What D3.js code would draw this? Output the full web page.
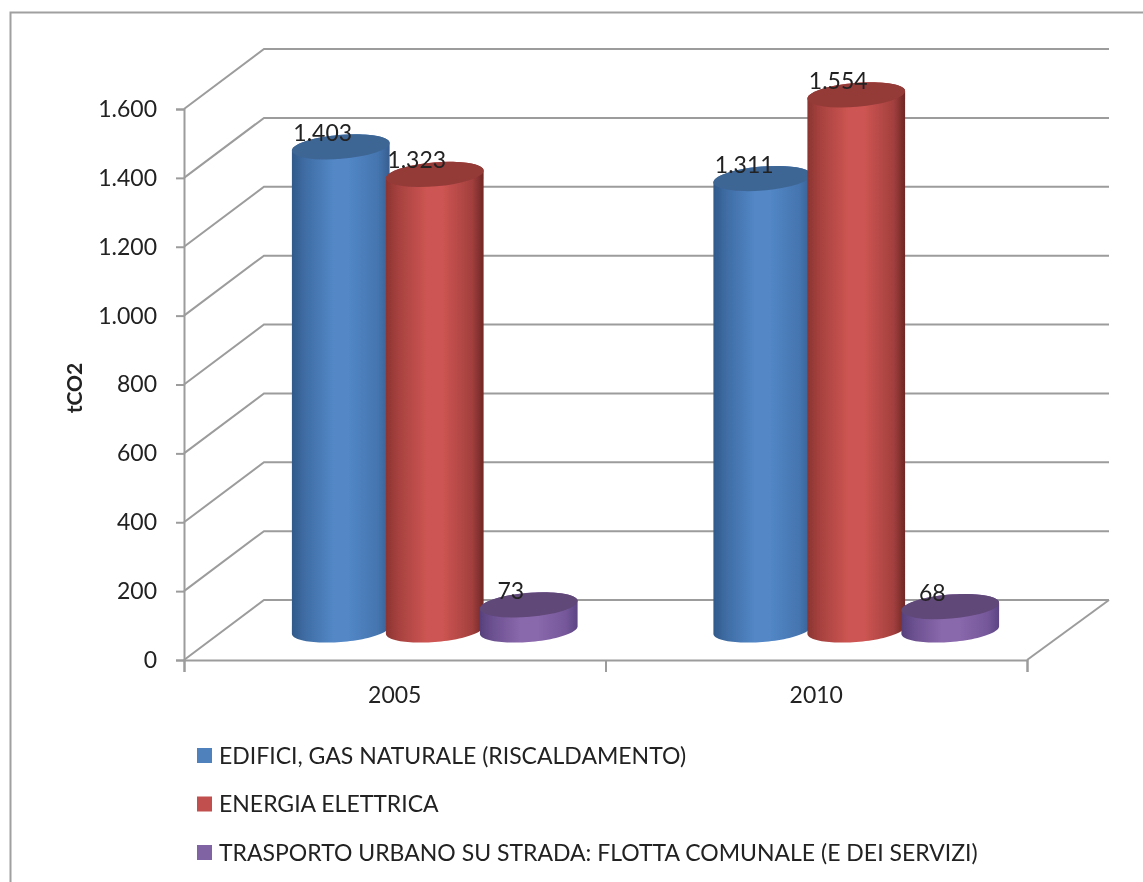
<!DOCTYPE html>
<html>
<head>
<meta charset="utf-8">
<script src="https://cdnjs.cloudflare.com/ajax/libs/d3/7.8.5/d3.min.js"></script>
<style>
  html, body { margin: 0; padding: 0; background: #fff; }
  svg { display: block; }
  text { font-family: Lato, "Open Sans", sans-serif; fill: #222; }
</style>
</head>
<body>
<svg id="chart" width="1143" height="882"></svg>
<script>
const years = ['2005', '2010'];
const seriesNames = [
  'EDIFICI, GAS NATURALE (RISCALDAMENTO)',
  'ENERGIA ELETTRICA',
  'TRASPORTO URBANO SU STRADA: FLOTTA COMUNALE (E DEI SERVIZI)'
];
const gasValues = [1403, 1311];
const elecValues = [1323, 1554];
const transportValues = [73, 68];
const yTicks = [0, 200, 400, 600, 800, 1000, 1200, 1400, 1600];

const seriesValues = [gasValues, elecValues, transportValues];
// edge, middle, far edge, top cap, legend swatch
const seriesColors = [
  ['#30598a', '#5287c6', '#365f92', '#3e6695', '#4f81bd'],
  ['#8b3431', '#cd5552', '#6f2725', '#943b39', '#c0504d'],
  ['#56407c', '#8a68ac', '#5c4484', '#604878', '#8064a2']
];

const DEPTH_X = 80;
const DEPTH_Y = -60;
const CYL_RX = 49;
const CYL_RY = 12;
const CYL_TILT = -4.7 * Math.PI / 180;

const svg = d3.select('#chart');
const y = d3.scaleLinear().domain([0, 1600]).range([660, 109]);
const x = d3.scaleBand().domain(years).range([184, 1027]);
const xEdges = d3.scaleLinear().domain([0, 2]).range([184, 1027]);
const seriesOffset = d3.scalePoint().domain(d3.range(3)).range([-94, 94]);
const number = d3.formatLocale({decimal: ',', thousands: '.', grouping: [3], currency: ['', '']}).format(',d');

// the reference is a slightly soft bitmap
const defs = svg.append('defs');
defs.append('filter').attr('id', 'soft')
  .append('feGaussianBlur').attr('stdDeviation', 0.45);

const root = svg.append('g').attr('filter', 'url(#soft)');

root.append('rect').attr('width', 1143).attr('height', 882).attr('fill', '#fff');

// outer frame, runs off the page on the right and at the bottom
root.append('path')
  .attr('d', 'M1143,12.5H10.5V882')
  .attr('fill', 'none')
  .attr('stroke', '#a0a0a0')
  .attr('stroke-width', 2);

const gridColor = '#9c9c9c';

// back wall lines and the side going back from the axis
root.append('g').selectAll('path')
  .data(yTicks)
  .join('path')
  .attr('d', d => `M184,${y(d)}l${DEPTH_X},${DEPTH_Y}H${1027 + DEPTH_X + 2}`)
  .attr('fill', 'none')
  .attr('stroke', gridColor)
  .attr('stroke-width', 2);

// right floor edge
root.append('line')
  .attr('x1', 1027).attr('y1', y(0))
  .attr('x2', 1027 + DEPTH_X + 2).attr('y2', y(0) + DEPTH_Y)
  .attr('stroke', gridColor)
  .attr('stroke-width', 2);

const yAxis = root.append('g')
  .attr('transform', 'translate(184,0)')
  .call(d3.axisLeft(y).tickValues(yTicks).tickFormat(number).tickSize(8).tickPadding(19));
yAxis.selectAll('line, path').attr('stroke', gridColor).attr('stroke-width', 2);
yAxis.selectAll('text').attr('font-size', 23).style('font-family', 'Lato').attr('fill', '#222');

const xTickAxis = root.append('g')
  .attr('transform', `translate(0,${y(0)})`)
  .call(d3.axisBottom(xEdges).tickValues([0, 1, 2]).tickFormat('').tickSize(12));
xTickAxis.selectAll('line, path').attr('stroke', gridColor).attr('stroke-width', 2);

const xLabels = root.append('g')
  .attr('transform', `translate(0,${y(0)})`)
  .call(d3.axisBottom(x).tickSize(0).tickPadding(27));
xLabels.select('.domain').remove();
xLabels.selectAll('text').attr('font-size', 23).style('font-family', 'Lato').attr('fill', '#222');

root.append('text')
  .attr('transform', 'translate(82,388) rotate(-90)')
  .attr('text-anchor', 'middle')
  .attr('font-size', 21)
  .attr('font-weight', 700)
  .text('tCO2');

// side shading of each cylinder: quick falloff near the edges, flat highlight
seriesColors.forEach((c, i) => {
  const left = d3.interpolateRgb(c[0], c[1]);
  const right = d3.interpolateRgb(c[2], c[1]);
  const grad = defs.append('linearGradient').attr('id', 'side' + i);
  [[0, c[0]], [0.12, left(0.4)], [0.42, c[1]], [0.58, c[1]], [0.88, right(0.55)], [1, c[2]]]
    .forEach(s => grad.append('stop').attr('offset', s[0]).attr('stop-color', s[1]));
});

function ellipsePoint(cx, cy, t) {
  return [
    cx + CYL_RX * Math.cos(t) * Math.cos(CYL_TILT) - CYL_RY * Math.sin(t) * Math.sin(CYL_TILT),
    cy + CYL_RX * Math.cos(t) * Math.sin(CYL_TILT) + CYL_RY * Math.sin(t) * Math.cos(CYL_TILT)
  ];
}

const line = d3.line();
// angle where the tilted ellipse reaches its right-most x
const tangent = Math.atan(-(CYL_RY / CYL_RX) * Math.tan(CYL_TILT));

function sidePath(cx, top, base) {
  const lower = d3.range(0, 49).map(k => ellipsePoint(cx, base, tangent + Math.PI * k / 48));
  const upper = d3.range(0, 49).map(k => ellipsePoint(cx, top, tangent + Math.PI + Math.PI * k / 48));
  return line(lower.concat(upper)) + 'Z';
}

const marks = [];
const labels = [];
years.forEach((year, g) => {
  seriesValues.forEach((values, s) => {
    const cx = x(year) + x.bandwidth() / 2 + seriesOffset(s) + DEPTH_X / 2;
    const top = y(values[g]) + DEPTH_Y / 2;
    marks.push({s, cx, top, base: y(0) + DEPTH_Y / 2});
    labels.push({cx, top, value: values[g]});
  });
});

const cylinders = root.append('g').selectAll('g')
  .data(marks)
  .join('g');

cylinders.append('path')
  .attr('d', d => sidePath(d.cx, d.top, d.base))
  .attr('fill', d => `url(#side${d.s})`);

cylinders.append('ellipse')
  .attr('rx', CYL_RX)
  .attr('ry', CYL_RY)
  .attr('transform', d => `translate(${d.cx},${d.top}) rotate(${CYL_TILT * 180 / Math.PI})`)
  .attr('fill', d => seriesColors[d.s][3]);

root.append('g').selectAll('text')
  .data(labels)
  .join('text')
  .attr('x', d => d.cx - 18)
  .attr('y', d => d.top - 6)
  .attr('text-anchor', 'middle')
  .attr('font-size', 23)
  .text(d => number(d.value));

// legend
const legendY = d3.scalePoint().domain(seriesNames).range([755.5, 852.5]);
const legend = root.append('g').selectAll('g')
  .data(seriesNames)
  .join('g')
  .attr('transform', d => `translate(197,${legendY(d)})`);

legend.append('rect')
  .attr('y', -7.5)
  .attr('width', 15)
  .attr('height', 15)
  .attr('fill', (d, i) => seriesColors[i][4]);

legend.append('text')
  .attr('x', 22)
  .attr('y', 8)
  .attr('font-size', 23)
  .text(d => d);
</script>
</body>
</html>
